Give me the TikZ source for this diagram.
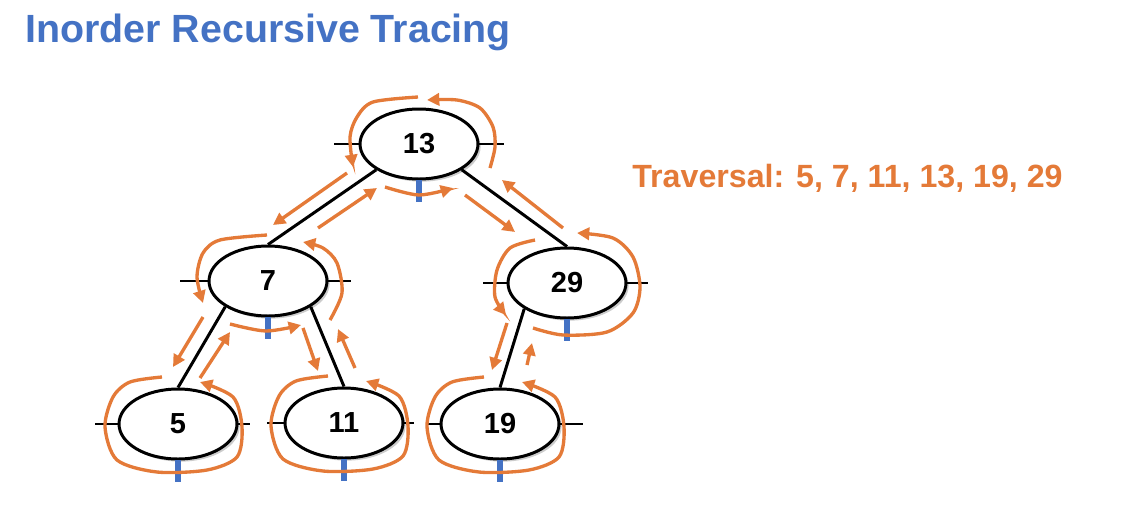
\documentclass[tikz,border=0pt]{standalone}
\usepackage{fontspec}
\setmainfont{Liberation Sans}
\usepackage{xcolor}
\definecolor{tblue}{RGB}{68,114,196}
\definecolor{torange}{RGB}{228,122,56}
\usetikzlibrary{arrows.meta,shapes.geometric,calc,shadows}

\begin{document}
\begin{tikzpicture}[
  x=0.02cm, y=-0.02cm,
  bnode/.style={ellipse,draw,line width=1.7pt,fill=white,minimum width=2.36cm,minimum height=1.4cm,inner sep=0pt,font=\fontsize{16.5}{16.5}\selectfont\bfseries,drop shadow={shadow xshift=1.5pt,shadow yshift=-1.5pt,opacity=.4}},
  link/.style={line width=1.7pt},
  stub/.style={line width=1.5pt},
  visit/.style={line width=3.5pt,tblue},
  trace/.style={-{Triangle[length=7pt,width=7pt]},line width=1.9pt,torange}
]
  \useasboundingbox (0,0) rectangle (1148,504);

  % Title and result
  \node[anchor=base west,inner sep=0pt,text=tblue,font=\fontsize{22.4}{26}\selectfont\bfseries] (title) at (25,42) {Inorder Recursive Tracing};
  \node[anchor=base west,inner sep=0pt,text=torange,font=\fontsize{18.3}{22}\selectfont\bfseries] (result) at (632,187) {Traversal: 5, 7, 11, 13, 19, 29};

  % Tree nodes
  \node[bnode] (n13) at (419,144) {13};
  \node[bnode] (n7)  at (268,281) {7};
  \node[bnode] (n29) at (567,283) {29};
  \node[bnode] (n5)  at (178,424) {5};
  \node[bnode] (n11) at (344,423) {11};
  \node[bnode] (n19) at (500,424) {19};

  % Tree edges
  \draw[link] (n13.south west) -- (n7.north);
  \draw[link] (n13.south east) -- (n29.north);
  \draw[link] (n7.south west) -- (n5.north);
  \draw[link] (n7.south east) -- (n11.north);
  \draw[link] (n29.south west) -- (n19.north);

  % Side stubs
  \draw[stub] (n13.west) -- ++(-25,0);
  \draw[stub] (n13.east) -- ++(25,0);
  \draw[stub] (n7.west) -- ++(-28,0);
  \draw[stub] (n7.east) -- ++(23,0);
  \draw[stub] (n29.west) -- ++(-24,0);
  \draw[stub] (n29.east) -- ++(21,0);
  \draw[stub] (n5.west) -- ++(-23,0);
  \draw[stub] (n5.east) -- ++(12,0);
  \draw[stub] (n11.west) -- ++(-17,0);
  \draw[stub] (n11.east) -- ++(10,0);
  \draw[stub] (n19.west) -- ++(-12,0);
  \draw[stub] (n19.east) -- ++(23,0);

  % Visit marks
  \draw[visit] (n13.south) -- ++(0,22);
  \draw[visit] (n7.south) -- ++(0,22);
  \draw[visit] (n29.south) -- ++(0,22);
  \draw[visit] (n5.south) -- ++(0,22);
  \draw[visit] (n11.south) -- ++(0,22);
  \draw[visit] (n19.south) -- ++(0,22);

  % Tracing path
  \draw[trace,shift={(n13)}] plot[smooth] coordinates {(-1,-47) (-46,-42) (-62,-27) (-69,-7) (-66,23)};
  \draw[trace] ($(n13)+(-72,29)$) -- ($(n7)+(5,-56)$);
  \draw[trace,shift={(n7)}] plot[smooth] coordinates {(-1,-46) (-48,-41) (-65,-28) (-71,-4) (-65,22)};
  \draw[trace] ($(n7)+(-65,36)$) -- ($(n5)+(-5,-57)$);
  \draw[trace,shift={(n5)}] plot[smooth] coordinates {(-16,-47) (-48,-42) (-65,-27) (-73,3) (-61,36) (-21,48) (29,46) (59,33) (64,3) (55,-27) (22,-42)};
  \draw[trace] ($(n5)+(22,-46)$) -- ($(n7)+(-38,51)$);
  \draw[trace,shift={(n7)}] plot[smooth] coordinates {(-38,43) (-2,50) (33,44)};
  \draw[trace] ($(n7)+(35,47)$) -- ($(n11)+(-26,-52)$);
  \draw[trace,shift={(n11)}] plot[smooth] coordinates {(-16,-47) (-48,-42) (-65,-27) (-73,3) (-61,36) (-21,48) (29,46) (59,33) (64,3) (55,-27) (22,-42)};
  \draw[trace] ($(n11)+(11,-55)$) -- ($(n7)+(70,48)$);
  \draw[trace,shift={(n7)}] plot[smooth] coordinates {(62,39) (74,12) (69,-18) (55,-33) (35,-39)};
  \draw[trace] ($(n7)+(50,-53)$) -- ($(n13)+(-42,44)$);
  \draw[trace,shift={(n13)}] plot[smooth] coordinates {(-34,43) (0,51) (34,44)};
  \draw[trace] ($(n13)+(46,51)$) -- ($(n29)+(-52,-51)$);
  \draw[trace,shift={(n29)}] plot[smooth] coordinates {(-32,-43) (-57,-35) (-70,-13) (-72,14) (-61,32)};
  \draw[trace] ($(n29)+(-60,40)$) -- ($(n19)+(-8,-54)$);
  \draw[trace,shift={(n19)}] plot[smooth] coordinates {(-16,-47) (-48,-42) (-65,-27) (-73,3) (-61,36) (-21,48) (29,46) (59,33) (64,3) (55,-27) (22,-42)};
  \draw[trace] ($(n19)+(27,-59)$) -- ($(n29)+(-35,60)$);
  \draw[trace,shift={(n29)}] plot[smooth] coordinates {(-34,45) (-4,52) (40,49) (66,30) (73,4) (66,-26) (46,-45) (10,-50)};
  \draw[trace] ($(n29)+(-4,-55)$) -- ($(n13)+(83,36)$);
  \draw[trace,shift={(n13)}] plot[smooth] coordinates {(71,24) (76,3) (74,-17) (61,-36) (38,-44) (8,-44)};
\end{tikzpicture}
\end{document}
